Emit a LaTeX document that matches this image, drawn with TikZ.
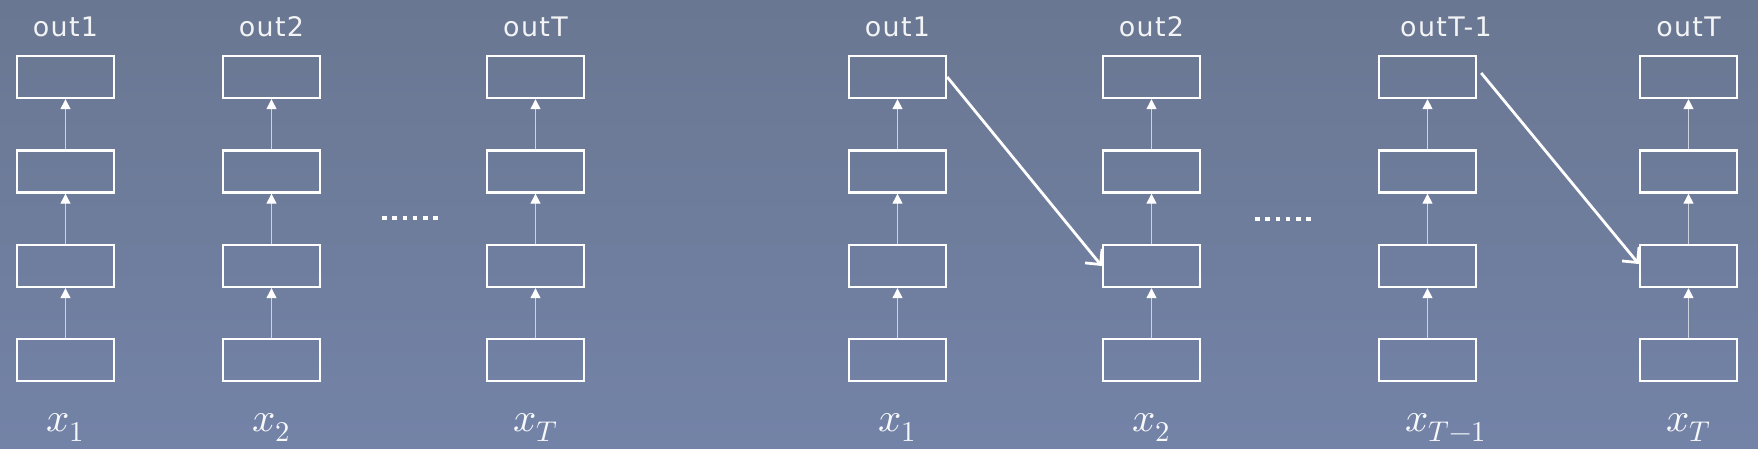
\documentclass[tikz,border=0pt]{standalone}
\usepackage{fontspec}
\usepackage{unicode-math}
\usetikzlibrary{arrows.meta}
\newfontfamily\labfont[LetterSpace=5]{DejaVu Sans}
\definecolor{bgtop}{RGB}{106,119,146}
\definecolor{bgbot}{RGB}{115,131,167}
\definecolor{linkc}{RGB}{205,210,222}
\tikzset{
  cell/.style={draw=white, line width=2.4bp, minimum width=97bp, minimum height=42bp, inner sep=0pt},
  uparrow/.style={draw=linkc, line width=1.3bp, -{Triangle[width=10bp,length=10bp,color=white]}},
  recur/.style={draw=white, line width=2.8bp, -{Straight Barb[length=11bp,width=22bp,line width=2.8bp]}},
  outlab/.style={text=white!92!bgtop, font=\labfont\fontsize{27}{32}\selectfont, anchor=base, inner sep=0pt},
  inlab/.style={text=white!95!bgbot, font=\fontsize{41}{48}\selectfont, anchor=base, inner sep=0pt},
  dot/.style={fill=white, minimum size=4.5bp, inner sep=0pt}
}
\begin{document}
\begin{tikzpicture}[x=1bp, y=-1bp]
\shade[top color=bgtop, bottom color=bgbot] (0,0) rectangle (1758,449);
\useasboundingbox (0,0) rectangle (1758,449);
% columns: name / x / out label / label x / input label
\foreach \n/\cx/\ol/\lx/\il in {a/65.5/out1/65.5/x_1, b/271.5/out2/271.5/x_2, c/535.5/outT/535.5/x_T,
  d/897.5/out1/897.5/x_1, e/1151.5/out2/1151.5/x_2, f/1427.5/outT-1/1446/x_{T-1}, g/1688.5/outT/1688.5/x_T}{
  \node[cell] (\n1) at (\cx,77) {};
  \node[cell] (\n2) at (\cx,171.5) {};
  \node[cell] (\n3) at (\cx,266) {};
  \node[cell] (\n4) at (\cx,360) {};
  \node[outlab] (\n o) at (\lx,37) {\ol};
  \node[inlab] (\n i) at (\lx,431) {$\il$};
  \draw[uparrow] (\n4.north) -- (\n3.south);
  \draw[uparrow] (\n3.north) -- (\n2.south);
  \draw[uparrow] (\n2.north) -- (\n1.south);
}
\draw[recur] (d1.east) -- (e3.west);
\draw[recur] ([xshift=4bp,yshift=4bp]f1.east) -- ([yshift=2bp]g3.west);
% dots
\foreach \i in {0,...,5}{
  \node[dot] (ld\i) at (384.5+10.2*\i,218) {};
  \node[dot] (rd\i) at (1257.5+10.2*\i,219) {};
}
\end{tikzpicture}
\end{document}
